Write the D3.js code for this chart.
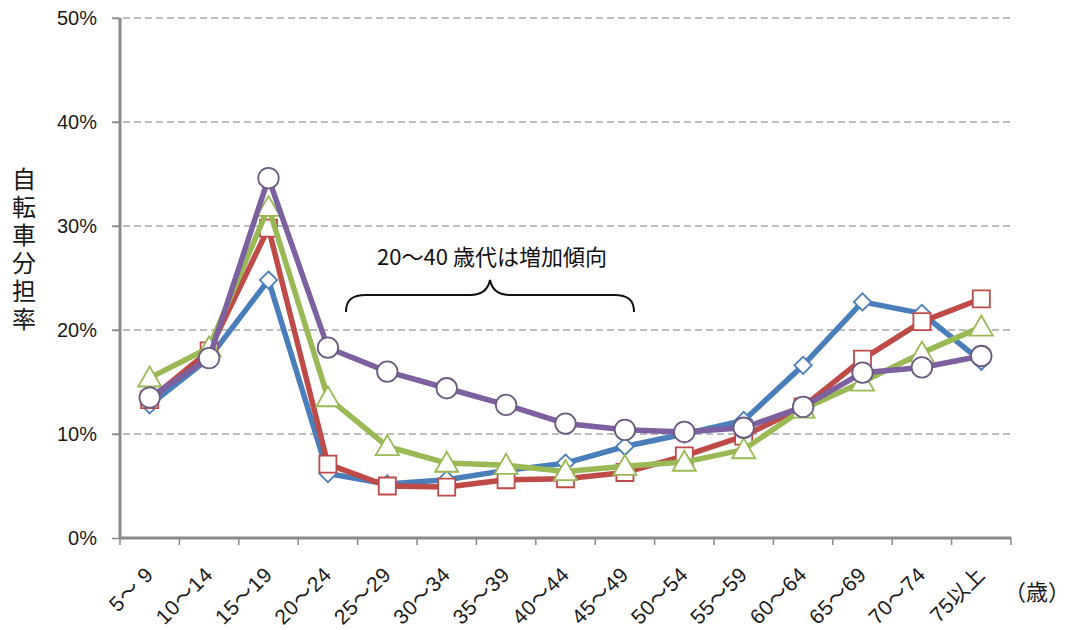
<!DOCTYPE html>
<html><head><meta charset="utf-8">
<script src="https://cdn.jsdelivr.net/npm/d3@7"></script>
<style>html,body{margin:0;padding:0;background:#fff;}svg{display:block;}</style>
</head><body>
<svg id="c" width="1072" height="630"></svg>
<script>
const categories = ["5〜 9","10〜14","15〜19","20〜24","25〜29","30〜34","35〜39","40〜44","45〜49","50〜54","55〜59","60〜64","65〜69","70〜74","75以上"];
const seriesBlue   = [12.8, 17.3, 24.8, 6.2, 5.2, 5.6, 6.5, 7.2, 8.8, 10.0, 11.3, 16.6, 22.7, 21.6, 17.0];
const seriesRed    = [13.3, 18.0, 29.8, 7.1, 5.0, 4.9, 5.6, 5.7, 6.3, 7.9, 9.8, 12.6, 17.2, 20.8, 23.0];
const seriesGreen  = [15.4, 18.3, 31.8, 13.5, 8.8, 7.2, 7.0, 6.4, 6.9, 7.3, 8.5, 12.4, 15.0, 17.8, 20.3];
const seriesPurple = [13.5, 17.3, 34.6, 18.3, 16.0, 14.4, 12.8, 11.0, 10.4, 10.2, 10.6, 12.6, 15.9, 16.4, 17.5];
const yTicks = [0, 10, 20, 30, 40, 50];
const yTitle = "自転車分担率";
const xUnit = "（歳）";
const annotation = "20〜40 歳代は増加傾向";

const svg = d3.select("#c");
const x = d3.scaleBand().domain(categories).range([120, 1011]);
const y = d3.scaleLinear().domain([0, 50]).range([538, 18]);
const font = "'Liberation Sans', Arial, 'Noto Sans CJK JP', sans-serif";

// gridlines
svg.append("g").selectAll("line").data(yTicks.filter(d => d > 0)).join("line")
  .attr("x1", 112).attr("x2", 1012)
  .attr("y1", d => y(d)).attr("y2", d => y(d))
  .attr("stroke", "#7a7a7a").attr("stroke-width", 1).attr("stroke-dasharray", "7,4");

// y axis
const yAxis = svg.append("g").attr("transform", "translate(120,0)")
  .call(d3.axisLeft(y).tickValues(yTicks).tickFormat(d => d + "%").tickSize(8).tickPadding(15));
yAxis.select(".domain").attr("stroke", "#8a8a8a").attr("stroke-width", 3).attr("d", `M0,${y(50)}V${y(0)}`);
yAxis.selectAll(".tick line").attr("stroke", "#8a8a8a").attr("stroke-width", 1.5);
yAxis.selectAll("text").attr("font-family", font).attr("font-size", 20).attr("fill", "#1a1a1a");

// x axis
const xAxis = svg.append("g").attr("transform", `translate(0,${y(0)})`)
  .call(d3.axisBottom(x).tickSize(0).tickFormat(""));
xAxis.select(".domain").attr("stroke", "#8a8a8a").attr("stroke-width", 3).attr("d", `M120,0H1011`);
const bounds = categories.map(c => x(c)).concat([x(categories[categories.length-1]) + x.bandwidth()]);
svg.append("g").selectAll("line").data(bounds).join("line")
  .attr("x1", d => d).attr("x2", d => d).attr("y1", y(0)).attr("y2", y(0) + 7)
  .attr("stroke", "#8a8a8a").attr("stroke-width", 1.5);
svg.append("g").selectAll("text").data(categories).join("text")
  .attr("transform", d => `translate(${x(d) + x.bandwidth()/2 + 5},${y(0) + 38}) rotate(-45)`)
  .attr("text-anchor", "end")
  .attr("font-family", font).attr("font-size", 21).attr("letter-spacing", 0.5).attr("fill", "#1a1a1a")
  .text(d => d);

svg.append("text").attr("x", 1070).attr("y", 600).attr("text-anchor", "end")
  .attr("font-family", "'Noto Sans CJK JP', sans-serif").attr("font-size", 22).attr("fill", "#1a1a1a").text(xUnit);

// y title (vertical)
svg.append("text").attr("x", 24).attr("y", 167)
  .attr("style", "writing-mode: vertical-rl; letter-spacing: 4px;")
  .attr("font-family", "'Noto Sans CJK JP', sans-serif").attr("font-size", 24).attr("fill", "#1a1a1a")
  .text(yTitle);

// series
const series = [
  {v: seriesBlue, color: "#4a7ebb", stroke: "#4a7ebb", shape: "diamond"},
  {v: seriesRed, color: "#be4b48", stroke: "#be4b48", shape: "square"},
  {v: seriesGreen, color: "#98b954", stroke: "#98b954", shape: "triangle"},
  {v: seriesPurple, color: "#7d60a0", stroke: "#6b5b80", shape: "circle"}
];
const cx = c => x(c) + x.bandwidth()/2;
const line = d3.line().x((d, i) => cx(categories[i])).y(d => y(d));
const sym = {
  diamond: d3.symbol().type(d3.symbolSquare).size(150),
  square: d3.symbol().type(d3.symbolSquare).size(290),
  triangle: d3.symbol().type(d3.symbolTriangle).size(230),
  circle: d3.symbol().type(d3.symbolCircle).size(330)
};
series.forEach(s => {
  const g = svg.append("g");
  g.append("path").datum(s.v).attr("d", line).attr("fill", "none")
    .attr("stroke", s.color).attr("stroke-width", 5.5).attr("stroke-linejoin", "round");
  g.selectAll("path.m").data(s.v).join("path").attr("class", "m")
    .attr("transform", (d, i) => `translate(${cx(categories[i])},${y(d) + (s.shape === "triangle" ? 2 : 0)})` + (s.shape === "diamond" ? " rotate(45)" : ""))
    .attr("d", sym[s.shape]()).attr("fill", "#fff")
    .attr("stroke", s.stroke).attr("stroke-width", 1.8);
});

// annotation
svg.append("text").attr("x", 492).attr("y", 265).attr("text-anchor", "middle")
  .attr("font-family", "'Noto Sans CJK JP', sans-serif").attr("font-size", 22).attr("fill", "#111")
  .text(annotation);
svg.append("path")
  .attr("d", "M346,312 C346,300 352,295 366,295 L470,295 C482,295 488,290 490,280 C492,290 498,295 510,295 L614,295 C628,295 634,300 634,312")
  .attr("fill", "none").attr("stroke", "#111").attr("stroke-width", 2);
</script>
</body></html>
